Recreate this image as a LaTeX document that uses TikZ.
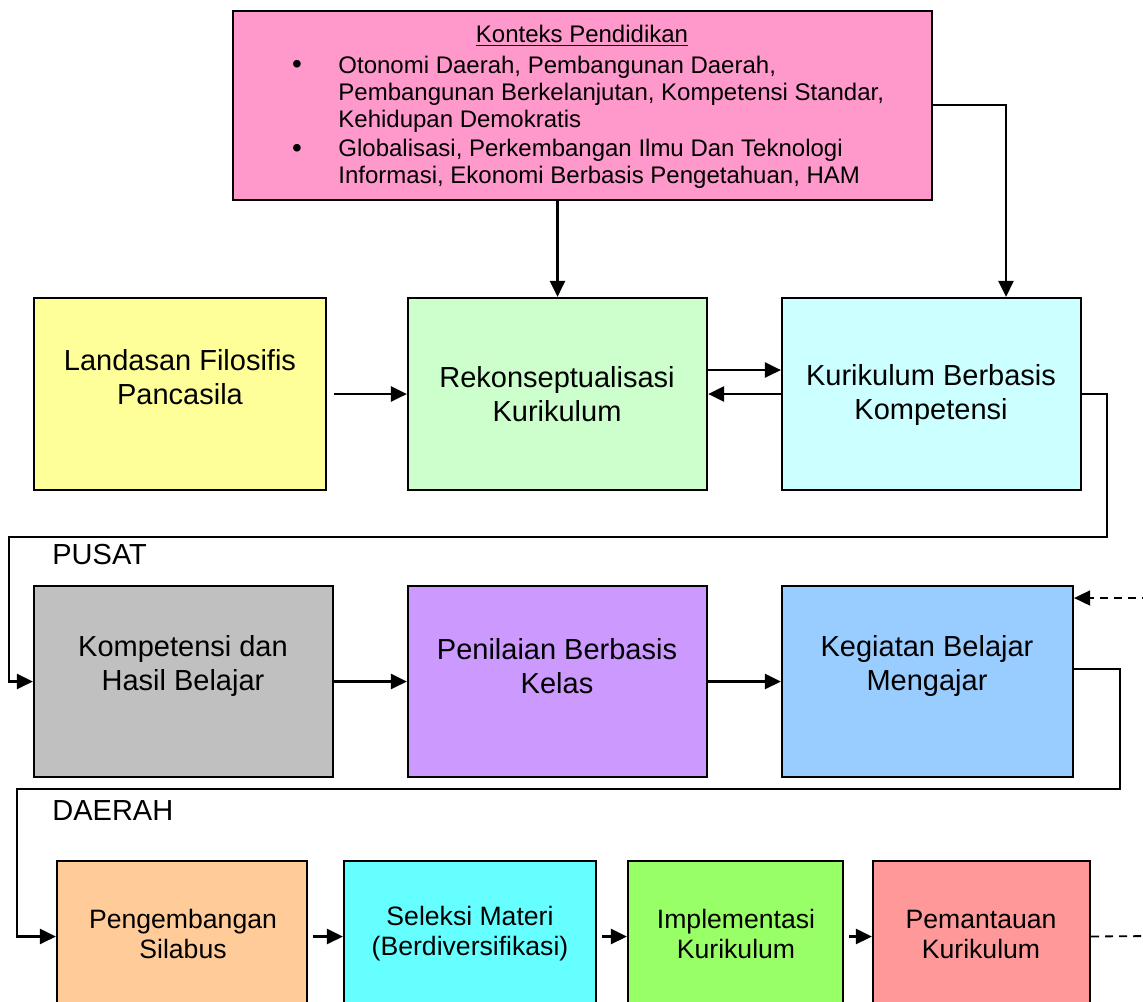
\documentclass[tikz,border=0pt]{standalone}
\usepackage{fontspec}
\setmainfont{Liberation Sans}
\usetikzlibrary{arrows.meta,fit,calc}
\definecolor{cPink}{HTML}{FF99CC}
\definecolor{cYel}{HTML}{FFFF99}
\definecolor{cLGreen}{HTML}{CCFFCC}
\definecolor{cLCyan}{HTML}{CCFFFF}
\definecolor{cGray}{HTML}{C0C0C0}
\definecolor{cViolet}{HTML}{CC99FF}
\definecolor{cLBlue}{HTML}{99CCFF}
\definecolor{cTan}{HTML}{FFCC99}
\definecolor{cCyan}{HTML}{66FFFF}
\definecolor{cGreen}{HTML}{99FF66}
\definecolor{cSalmon}{HTML}{FF9999}
\tikzset{
  box/.style={draw=black, line width=1.1pt, inner sep=0pt, rectangle},
  bigtxt/.style={align=center, inner sep=0pt, font=\fontsize{14.5}{17}\selectfont},
  smalltxt/.style={align=center, inner sep=0pt, font=\fontsize{13.3}{15}\selectfont},
  ctxtxt/.style={align=left, inner sep=0pt, font=\fontsize{12}{13.5}\selectfont},
  lbl/.style={anchor=west, inner sep=0pt, font=\fontsize{14.5}{17}\selectfont},
  arr/.style={line width=1.3pt, -{Triangle[length=8pt,width=7.5pt]}},
  dsh/.style={line width=0.9pt, dash pattern=on 4pt off 3pt},
}
\begin{document}
\begin{tikzpicture}[x=0.5pt,y=-0.5pt]
\useasboundingbox (0,0) rectangle (1143,1001);
% top context box
\node[box, fill=cPink, fit={(233,11)(932,200)}] (ctx) {};
\node[inner sep=0pt, font=\fontsize{12}{13.5}\selectfont] (ctxT) at (582,36) {\underline{Konteks Pendidikan}};
\node[inner sep=0pt, font=\fontsize{14}{13.5}\selectfont] (b1) at (297,67) {•};
\node[inner sep=0pt, font=\fontsize{14}{13.5}\selectfont] (b2) at (297,151) {•};
\node[ctxtxt, anchor=west] (it1) at (338,94) {Otonomi Daerah, Pembangunan Daerah,\\Pembangunan Berkelanjutan, Kompetensi Standar,\\Kehidupan Demokratis};
\node[ctxtxt, anchor=west] (it2) at (338,164) {Globalisasi, Perkembangan Ilmu Dan Teknologi\\Informasi, Ekonomi Berbasis Pengetahuan, HAM};
% row 1
\node[box, fill=cYel, fit={(34,298)(326,490)}] (land) {};
\node[bigtxt] (landT) at (180,377) {Landasan Filosifis\\Pancasila};
\node[box, fill=cLGreen, fit={(408,298)(707,490)}] (rek) {};
\node[bigtxt] (rekT) at (557,394) {Rekonseptualisasi\\Kurikulum};
\node[box, fill=cLCyan, fit={(782,298)(1081,490)}] (kbk) {};
\node[bigtxt] (kbkT) at (931,395) {Kurikulum Berbasis\\Kompetensi};
% row 2
\node[lbl] (pusat) at (52,555) {PUSAT};
\node[box, fill=cGray, fit={(34,586)(333,777)}] (khb) {};
\node[bigtxt] (khbT) at (183,666) {Kompetensi dan\\Hasil Belajar};
\node[box, fill=cViolet, fit={(408,586)(707,777)}] (pbk) {};
\node[bigtxt] (pbkT) at (557,666) {Penilaian Berbasis\\Kelas};
\node[box, fill=cLBlue, fit={(782,586)(1073,777)}] (kbm) {};
\node[bigtxt] (kbmT) at (927,666) {Kegiatan Belajar\\Mengajar};
% row 3
\node[lbl] (daerah) at (52,811) {DAERAH};
\node[box, fill=cTan, fit={(57,861)(307,1012)}] (peng) {};
\node[smalltxt] (pengT) at (183,934) {Pengembangan\\Silabus};
\node[box, fill=cCyan, fit={(344,861)(596,1012)}] (sel) {};
\node[smalltxt] (selT) at (470,934) {Seleksi Materi\\(Berdiversifikasi)};
\node[box, fill=cGreen, fit={(628,861)(843,1012)}] (impl) {};
\node[smalltxt] (implT) at (736,934) {Implementasi\\Kurikulum};
\node[box, fill=cSalmon, fit={(873,861)(1090,1012)}] (pem) {};
\node[smalltxt] (pemT) at (981,934) {Pemantauan\\Kurikulum};
% connectors
\draw[arr] (ctx.south -| rek.north) -- (rek.north);
\draw[arr] (ctx.east |- 0,105) -| ($(kbk.north)+(74.5,0)$);
\draw[arr] ([xshift=3.5pt]land.east) -- (rek.west);
\draw[arr] ($(rek.east)+(0,-24)$) -- ($(kbk.west)+(0,-24)$);
\draw[arr] (kbk.west) -- (rek.east);
\draw[arr] (kbk.east) -- ++(25,0) |- (9,537) |- (khb.west);
\draw[arr] (khb.east) -- (pbk.west);
\draw[arr] (pbk.east) -- (kbm.west);
\coordinate (dashA) at (1150,598);
\draw[dsh, -{Triangle[length=8pt,width=7.5pt]}] (dashA) -- (kbm.east |- dashA);
\draw[arr] (kbm.east |- 0,669) -- (1120,669) |- (17,789) |- (peng.west);
\draw[arr] ([xshift=2.5pt]peng.east) -- (sel.west);
\draw[arr] ([xshift=2.5pt]sel.east) -- (impl.west);
\draw[arr] ([xshift=2.5pt]impl.east) -- (pem.west);
\coordinate (dashB) at (1150,936);
\draw[dsh] (pem.east) -- (dashB);
\end{tikzpicture}
\end{document}
